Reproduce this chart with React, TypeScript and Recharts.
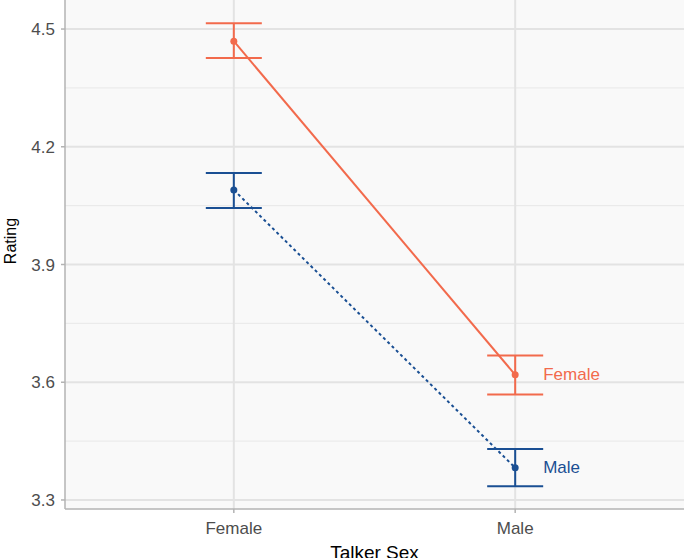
import React from "react";
import {
  LineChart,
  Line,
  XAxis,
  YAxis,
  ErrorBar,
  ReferenceLine,
  ReferenceArea,
  LabelList,
} from "recharts";

const talkerSex = ["Female", "Male"];
const femaleListenerMean = [4.469, 3.619];
const femaleListenerLow = [4.426, 3.569];
const femaleListenerHigh = [4.515, 3.668];
const maleListenerMean = [4.09, 3.382];
const maleListenerLow = [4.044, 3.335];
const maleListenerHigh = [4.133, 3.43];
const seriesNames = ["Female", "Male"];
const yTicks = [3.3, 3.6, 3.9, 4.2, 4.5];
const yMinor = [3.45, 3.75, 4.05, 4.35];
const xTitle = "Talker Sex";
const yTitle = "Rating";

const X_DOMAIN: [number, number] = [0.4, 2.6];
const Y_DOMAIN: [number, number] = [3.277, 4.574];

const FEMALE_COLOR = "#F26A4C";
const MALE_COLOR = "#1A4F93";
const FONT = "'Liberation Sans', Arial, sans-serif";

const data = talkerSex.map((c, i) => ({
  x: i + 1,
  name: c,
  female: femaleListenerMean[i],
  femaleErr: [
    femaleListenerMean[i] - femaleListenerLow[i],
    femaleListenerHigh[i] - femaleListenerMean[i],
  ],
  male: maleListenerMean[i],
  maleErr: [
    maleListenerMean[i] - maleListenerLow[i],
    maleListenerHigh[i] - maleListenerMean[i],
  ],
}));

const makeEndLabel = (text: string, color: string) => (props: any) => {
  const { x, y, index } = props;
  if (index !== data.length - 1) return null;
  return (
    <text
      x={x + 28}
      y={y}
      fill={color}
      fontSize={17}
      fontFamily={FONT}
      textAnchor="start"
      dominantBaseline="central"
    >
      {text}
    </text>
  );
};

const XTitle = (props: any) => {
  const vb = props.viewBox || {};
  const cx = vb.x != null && vb.width != null ? vb.x + vb.width / 2 : 374.5;
  return (
    <text
      x={cx}
      y={552}
      fill="#000"
      fontSize={19}
      fontFamily={FONT}
      textAnchor="middle"
      dominantBaseline="central"
    >
      {xTitle}
    </text>
  );
};

const YTitle = () => (
  <text
    x={10}
    y={241}
    fill="#000"
    fontSize={16}
    fontFamily={FONT}
    textAnchor="middle"
    dominantBaseline="central"
    transform="rotate(-90 10 241)"
  >
    {yTitle}
  </text>
);

export default function App() {
  return (
    <div style={{ position: "absolute", left: 0, top: 0, width: 685, height: 558, background: "#fff" }}>
      <LineChart
        width={685}
        height={558}
        data={data}
        margin={{ top: 0, right: 1, bottom: 0, left: 0 }}
      >
        <ReferenceArea
          x1={X_DOMAIN[0]}
          x2={X_DOMAIN[1]}
          y1={Y_DOMAIN[0]}
          y2={Y_DOMAIN[1]}
          fill="#f9f9f9"
          fillOpacity={1}
          stroke="none"
        />
        {yMinor.map((v) => (
          <ReferenceLine key={"m" + v} y={v} stroke="#e8e8e8" strokeWidth={1} />
        ))}
        {yTicks.map((v) => (
          <ReferenceLine key={"M" + v} y={v} stroke="#e3e3e3" strokeWidth={2} />
        ))}
        {data.map((d) => (
          <ReferenceLine key={"v" + d.x} x={d.x} stroke="#e3e3e3" strokeWidth={2} />
        ))}
        <XAxis
          dataKey="x"
          type="number"
          domain={X_DOMAIN}
          ticks={[1, 2]}
          allowDataOverflow
          tickFormatter={(v: number) => talkerSex[v - 1]}
          height={49}
          axisLine={{ stroke: "#b3b3b3", strokeWidth: 1.5 }}
          tickLine={{ stroke: "#b3b3b3", strokeWidth: 1.5 }}
          tickSize={4}
          tick={{ fill: "#4d4d4d", fontSize: 17, fontFamily: FONT, dy: 7 }}
          label={{ content: XTitle }}
        />
        <YAxis
          type="number"
          domain={Y_DOMAIN}
          ticks={yTicks}
          allowDataOverflow
          width={65}
          tickFormatter={(v: number) => v.toFixed(1)}
          axisLine={{ stroke: "#b3b3b3", strokeWidth: 1.5 }}
          tickLine={{ stroke: "#b3b3b3", strokeWidth: 1.5 }}
          tickSize={4}
          tick={{ fill: "#4d4d4d", fontSize: 17, fontFamily: FONT, dx: -4 }}
          label={{ content: YTitle }}
        />
        <Line
          dataKey="female"
          stroke={FEMALE_COLOR}
          strokeWidth={2}
          dot={{ r: 3.5, fill: FEMALE_COLOR, stroke: FEMALE_COLOR, strokeWidth: 0 }}
          activeDot={false}
          isAnimationActive={false}
        >
          <ErrorBar dataKey="femaleErr" direction="y" width={28} stroke={FEMALE_COLOR} strokeWidth={2} />
          <LabelList dataKey="female" content={makeEndLabel(seriesNames[0], FEMALE_COLOR)} />
        </Line>
        <Line
          dataKey="male"
          stroke={MALE_COLOR}
          strokeWidth={2}
          strokeDasharray="3 3"
          dot={{ r: 3.5, fill: MALE_COLOR, stroke: MALE_COLOR, strokeWidth: 0 }}
          activeDot={false}
          isAnimationActive={false}
        >
          <ErrorBar dataKey="maleErr" direction="y" width={28} stroke={MALE_COLOR} strokeWidth={2} />
          <LabelList dataKey="male" content={makeEndLabel(seriesNames[1], MALE_COLOR)} />
        </Line>
      </LineChart>
    </div>
  );
}
